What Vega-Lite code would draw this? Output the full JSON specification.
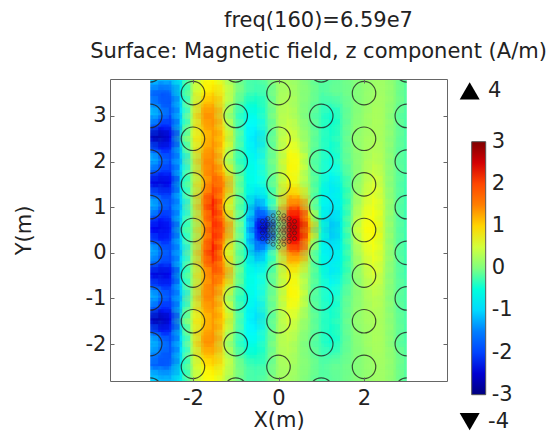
{"$schema":"https://vega.github.io/schema/vega-lite/v6.json","width":337,"height":302,"autosize":"none","padding":{"left":110,"top":79,"right":101,"bottom":52},"background":"white",
"title":{"text":["freq(160)=6.59e7","Surface: Magnetic field, z component (A/m)"],"font":"DejaVu Sans","fontSize":21,"fontWeight":"normal","color":"#222","anchor":"middle","dx":40,"lineHeight":31,"offset":17},
"config":{"view":{"stroke":null},"font":"DejaVu Sans"},
"resolve":{"axis":{"x":"independent","y":"independent"}},
"datasets":{"heat":[
{"x":-3,"y":3.75,"v":-1},{"x":-2.75,"y":3.75,"v":-1.2},{"x":-2.5,"y":3.75,"v":-1.2},{"x":-2.25,"y":3.75,"v":-0.6},{"x":-2,"y":3.75,"v":0.3},{"x":-1.75,"y":3.75,"v":0.7},{"x":-1.5,"y":3.75,"v":0.75},{"x":-1.25,"y":3.75,"v":0.4},{"x":-1,"y":3.75,"v":0.05},{"x":-0.75,"y":3.75,"v":-0.2},{"x":-0.5,"y":3.75,"v":-0.25},{"x":-0.25,"y":3.75,"v":-0.1},{"x":0,"y":3.75,"v":0.2},{"x":0.25,"y":3.75,"v":0.25},{"x":0.5,"y":3.75,"v":0.1},{"x":0.75,"y":3.75,"v":-0.05},{"x":1,"y":3.75,"v":-0.2},{"x":1.25,"y":3.75,"v":-0.15},{"x":1.5,"y":3.75,"v":-0.1},{"x":1.75,"y":3.75,"v":0},{"x":2,"y":3.75,"v":0.1},{"x":2.25,"y":3.75,"v":0.2},{"x":2.5,"y":3.75,"v":0.2},{"x":2.75,"y":3.75,"v":0},{"x":3,"y":3.75,"v":-0.2},
{"x":-3,"y":3.5,"v":-1.7},{"x":-2.75,"y":3.5,"v":-1.9},{"x":-2.5,"y":3.5,"v":-1.7},{"x":-2.25,"y":3.5,"v":-0.5},{"x":-2,"y":3.5,"v":0.35},{"x":-1.75,"y":3.5,"v":0.8},{"x":-1.5,"y":3.5,"v":1},{"x":-1.25,"y":3.5,"v":0.6},{"x":-1,"y":3.5,"v":0.1},{"x":-0.75,"y":3.5,"v":-0.2},{"x":-0.5,"y":3.5,"v":-0.3},{"x":-0.25,"y":3.5,"v":-0.2},{"x":0,"y":3.5,"v":0.2},{"x":0.25,"y":3.5,"v":0.3},{"x":0.5,"y":3.5,"v":0.1},{"x":0.75,"y":3.5,"v":0},{"x":1,"y":3.5,"v":-0.2},{"x":1.25,"y":3.5,"v":-0.1},{"x":1.5,"y":3.5,"v":-0.1},{"x":1.75,"y":3.5,"v":0},{"x":2,"y":3.5,"v":0.1},{"x":2.25,"y":3.5,"v":0.2},{"x":2.5,"y":3.5,"v":0.2},{"x":2.75,"y":3.5,"v":0},{"x":3,"y":3.5,"v":-0.2},
{"x":-3,"y":3.25,"v":-1.4},{"x":-2.75,"y":3.25,"v":-1.8},{"x":-2.5,"y":3.25,"v":-1.9},{"x":-2.25,"y":3.25,"v":-0.7},{"x":-2,"y":3.25,"v":0.4},{"x":-1.75,"y":3.25,"v":1.1},{"x":-1.5,"y":3.25,"v":1.2},{"x":-1.25,"y":3.25,"v":0.5},{"x":-1,"y":3.25,"v":-0.05},{"x":-0.75,"y":3.25,"v":-0.4},{"x":-0.5,"y":3.25,"v":-0.45},{"x":-0.25,"y":3.25,"v":-0.2},{"x":0,"y":3.25,"v":0.25},{"x":0.25,"y":3.25,"v":0.35},{"x":0.5,"y":3.25,"v":0.1},{"x":0.75,"y":3.25,"v":-0.05},{"x":1,"y":3.25,"v":-0.25},{"x":1.25,"y":3.25,"v":-0.3},{"x":1.5,"y":3.25,"v":-0.15},{"x":1.75,"y":3.25,"v":0},{"x":2,"y":3.25,"v":0.1},{"x":2.25,"y":3.25,"v":0.25},{"x":2.5,"y":3.25,"v":0.2},{"x":2.75,"y":3.25,"v":0},{"x":3,"y":3.25,"v":-0.2},
{"x":-3,"y":3,"v":-1},{"x":-2.75,"y":3,"v":-1.4},{"x":-2.5,"y":3,"v":-1.9},{"x":-2.25,"y":3,"v":-0.8},{"x":-2,"y":3,"v":0.5},{"x":-1.75,"y":3,"v":1.4},{"x":-1.5,"y":3,"v":1.4},{"x":-1.25,"y":3,"v":0.4},{"x":-1,"y":3,"v":-0.2},{"x":-0.75,"y":3,"v":-0.6},{"x":-0.5,"y":3,"v":-0.6},{"x":-0.25,"y":3,"v":-0.2},{"x":0,"y":3,"v":0.3},{"x":0.25,"y":3,"v":0.4},{"x":0.5,"y":3,"v":0.1},{"x":0.75,"y":3,"v":-0.1},{"x":1,"y":3,"v":-0.3},{"x":1.25,"y":3,"v":-0.5},{"x":1.5,"y":3,"v":-0.2},{"x":1.75,"y":3,"v":0},{"x":2,"y":3,"v":0.15},{"x":2.25,"y":3,"v":0.3},{"x":2.5,"y":3,"v":0.2},{"x":2.75,"y":3,"v":-0.1},{"x":3,"y":3,"v":-0.25},
{"x":-3,"y":2.75,"v":-1.7},{"x":-2.75,"y":2.75,"v":-2.2},{"x":-2.5,"y":2.75,"v":-2.1},{"x":-2.25,"y":2.75,"v":-0.6},{"x":-2,"y":2.75,"v":0.5},{"x":-1.75,"y":2.75,"v":1.2},{"x":-1.5,"y":2.75,"v":1.4},{"x":-1.25,"y":2.75,"v":0.6},{"x":-1,"y":2.75,"v":-0.1},{"x":-0.75,"y":2.75,"v":-0.7},{"x":-0.5,"y":2.75,"v":-0.8},{"x":-0.25,"y":2.75,"v":-0.25},{"x":0,"y":2.75,"v":0.25},{"x":0.25,"y":2.75,"v":0.5},{"x":0.5,"y":2.75,"v":0.2},{"x":0.75,"y":2.75,"v":-0.05},{"x":1,"y":2.75,"v":-0.3},{"x":1.25,"y":2.75,"v":-0.45},{"x":1.5,"y":2.75,"v":-0.2},{"x":1.75,"y":2.75,"v":0.05},{"x":2,"y":2.75,"v":0.15},{"x":2.25,"y":2.75,"v":0.3},{"x":2.5,"y":2.75,"v":0.2},{"x":2.75,"y":2.75,"v":-0.05},{"x":3,"y":2.75,"v":-0.25},
{"x":-3,"y":2.5,"v":-2.6},{"x":-2.75,"y":2.5,"v":-2.8},{"x":-2.5,"y":2.5,"v":-2.3},{"x":-2.25,"y":2.5,"v":-0.3},{"x":-2,"y":2.5,"v":0.6},{"x":-1.75,"y":2.5,"v":1},{"x":-1.5,"y":2.5,"v":1.4},{"x":-1.25,"y":2.5,"v":0.9},{"x":-1,"y":2.5,"v":0},{"x":-0.75,"y":2.5,"v":-0.7},{"x":-0.5,"y":2.5,"v":-1},{"x":-0.25,"y":2.5,"v":-0.3},{"x":0,"y":2.5,"v":0.2},{"x":0.25,"y":2.5,"v":0.6},{"x":0.5,"y":2.5,"v":0.3},{"x":0.75,"y":2.5,"v":0},{"x":1,"y":2.5,"v":-0.3},{"x":1.25,"y":2.5,"v":-0.4},{"x":1.5,"y":2.5,"v":-0.2},{"x":1.75,"y":2.5,"v":0.1},{"x":2,"y":2.5,"v":0.2},{"x":2.25,"y":2.5,"v":0.3},{"x":2.5,"y":2.5,"v":0.2},{"x":2.75,"y":2.5,"v":-0.05},{"x":3,"y":2.5,"v":-0.25},
{"x":-3,"y":2.25,"v":-1.7},{"x":-2.75,"y":2.25,"v":-2.2},{"x":-2.5,"y":2.25,"v":-2.1},{"x":-2.25,"y":2.25,"v":-0.6},{"x":-2,"y":2.25,"v":0.45},{"x":-1.75,"y":2.25,"v":1.2},{"x":-1.5,"y":2.25,"v":1.45},{"x":-1.25,"y":2.25,"v":0.7},{"x":-1,"y":2.25,"v":-0.1},{"x":-0.75,"y":2.25,"v":-0.6},{"x":-0.5,"y":2.25,"v":-0.9},{"x":-0.25,"y":2.25,"v":-0.25},{"x":0,"y":2.25,"v":0.2},{"x":0.25,"y":2.25,"v":0.7},{"x":0.5,"y":2.25,"v":0.5},{"x":0.75,"y":2.25,"v":-0.05},{"x":1,"y":2.25,"v":-0.3},{"x":1.25,"y":2.25,"v":-0.5},{"x":1.5,"y":2.25,"v":-0.2},{"x":1.75,"y":2.25,"v":0.05},{"x":2,"y":2.25,"v":0.2},{"x":2.25,"y":2.25,"v":0.35},{"x":2.5,"y":2.25,"v":0.2},{"x":2.75,"y":2.25,"v":-0.1},{"x":3,"y":2.25,"v":-0.25},
{"x":-3,"y":2,"v":-1},{"x":-2.75,"y":2,"v":-1.5},{"x":-2.5,"y":2,"v":-1.9},{"x":-2.25,"y":2,"v":-1},{"x":-2,"y":2,"v":0.3},{"x":-1.75,"y":2,"v":1.4},{"x":-1.5,"y":2,"v":1.5},{"x":-1.25,"y":2,"v":0.5},{"x":-1,"y":2,"v":-0.2},{"x":-0.75,"y":2,"v":-0.5},{"x":-0.5,"y":2,"v":-0.8},{"x":-0.25,"y":2,"v":-0.2},{"x":0,"y":2,"v":0.2},{"x":0.25,"y":2,"v":0.8},{"x":0.5,"y":2,"v":0.7},{"x":0.75,"y":2,"v":-0.1},{"x":1,"y":2,"v":-0.3},{"x":1.25,"y":2,"v":-0.6},{"x":1.5,"y":2,"v":-0.2},{"x":1.75,"y":2,"v":0},{"x":2,"y":2,"v":0.2},{"x":2.25,"y":2,"v":0.4},{"x":2.5,"y":2,"v":0.2},{"x":2.75,"y":2,"v":-0.1},{"x":3,"y":2,"v":-0.25},
{"x":-3,"y":1.75,"v":-1.8},{"x":-2.75,"y":1.75,"v":-2.1},{"x":-2.5,"y":1.75,"v":-2.1},{"x":-2.25,"y":1.75,"v":-0.7},{"x":-2,"y":1.75,"v":0.3},{"x":-1.75,"y":1.75,"v":1.3},{"x":-1.5,"y":1.75,"v":1.7},{"x":-1.25,"y":1.75,"v":0.9},{"x":-1,"y":1.75,"v":0.05},{"x":-0.75,"y":1.75,"v":-0.5},{"x":-0.5,"y":1.75,"v":-0.7},{"x":-0.25,"y":1.75,"v":-0.25},{"x":0,"y":1.75,"v":0.2},{"x":0.25,"y":1.75,"v":0.8},{"x":0.5,"y":1.75,"v":0.6},{"x":0.75,"y":1.75,"v":-0.05},{"x":1,"y":1.75,"v":-0.35},{"x":1.25,"y":1.75,"v":-0.7},{"x":1.5,"y":1.75,"v":-0.3},{"x":1.75,"y":1.75,"v":0},{"x":2,"y":1.75,"v":0.25},{"x":2.25,"y":1.75,"v":0.5},{"x":2.5,"y":1.75,"v":0.2},{"x":2.75,"y":1.75,"v":-0.1},{"x":3,"y":1.75,"v":-0.25},
{"x":-3,"y":1.5,"v":-2.4},{"x":-2.75,"y":1.5,"v":-2.5},{"x":-2.5,"y":1.5,"v":-2.3},{"x":-2.25,"y":1.5,"v":-0.5},{"x":-2,"y":1.5,"v":0.3},{"x":-1.75,"y":1.5,"v":1.1},{"x":-1.5,"y":1.5,"v":1.9},{"x":-1.25,"y":1.5,"v":1.4},{"x":-1,"y":1.5,"v":0.2},{"x":-0.75,"y":1.5,"v":-0.5},{"x":-0.5,"y":1.5,"v":-0.7},{"x":-0.25,"y":1.5,"v":-0.3},{"x":0,"y":1.5,"v":0.2},{"x":0.25,"y":1.5,"v":0.8},{"x":0.5,"y":1.5,"v":0.5},{"x":0.75,"y":1.5,"v":0},{"x":1,"y":1.5,"v":-0.4},{"x":1.25,"y":1.5,"v":-0.9},{"x":1.5,"y":1.5,"v":-0.4},{"x":1.75,"y":1.5,"v":0},{"x":2,"y":1.5,"v":0.3},{"x":2.25,"y":1.5,"v":0.6},{"x":2.5,"y":1.5,"v":0.2},{"x":2.75,"y":1.5,"v":-0.1},{"x":3,"y":1.5,"v":-0.3},
{"x":-3,"y":1.25,"v":-1.6},{"x":-2.75,"y":1.25,"v":-2},{"x":-2.5,"y":1.25,"v":-2},{"x":-2.25,"y":1.25,"v":-0.7},{"x":-2,"y":1.25,"v":0.3},{"x":-1.75,"y":1.25,"v":1.4},{"x":-1.5,"y":1.25,"v":2.1},{"x":-1.25,"y":1.25,"v":1.1},{"x":-1,"y":1.25,"v":0.15},{"x":-0.75,"y":1.25,"v":-0.5},{"x":-0.5,"y":1.25,"v":-1},{"x":-0.25,"y":1.25,"v":-0.5},{"x":0,"y":1.25,"v":0.25},{"x":0.25,"y":1.25,"v":1.1},{"x":0.5,"y":1.25,"v":1},{"x":0.75,"y":1.25,"v":0.05},{"x":1,"y":1.25,"v":-0.5},{"x":1.25,"y":1.25,"v":-0.9},{"x":1.5,"y":1.25,"v":-0.45},{"x":1.75,"y":1.25,"v":0.05},{"x":2,"y":1.25,"v":0.4},{"x":2.25,"y":1.25,"v":0.65},{"x":2.5,"y":1.25,"v":0.25},{"x":2.75,"y":1.25,"v":-0.1},{"x":3,"y":1.25,"v":-0.3},
{"x":-3,"y":1,"v":-1},{"x":-2.75,"y":1,"v":-1.6},{"x":-2.5,"y":1,"v":-1.9},{"x":-2.25,"y":1,"v":-1},{"x":-2,"y":1,"v":0.25},{"x":-1.75,"y":1,"v":1.5},{"x":-1.5,"y":1,"v":2.3},{"x":-1.25,"y":1,"v":0.8},{"x":-1,"y":1,"v":0.1},{"x":-0.75,"y":1,"v":-0.5},{"x":-0.5,"y":1,"v":-1.5},{"x":-0.25,"y":1,"v":-0.8},{"x":0,"y":1,"v":0.3},{"x":0.25,"y":1,"v":1.6},{"x":0.5,"y":1,"v":1.8},{"x":0.75,"y":1,"v":0.2},{"x":1,"y":1,"v":-0.6},{"x":1.25,"y":1,"v":-0.9},{"x":1.5,"y":1,"v":-0.5},{"x":1.75,"y":1,"v":0.1},{"x":2,"y":1,"v":0.5},{"x":2.25,"y":1,"v":0.7},{"x":2.5,"y":1,"v":0.3},{"x":2.75,"y":1,"v":-0.1},{"x":3,"y":1,"v":-0.3},
{"x":-3,"y":0.75,"v":-1.8},{"x":-2.75,"y":0.75,"v":-2.2},{"x":-2.5,"y":0.75,"v":-2},{"x":-2.25,"y":0.75,"v":-0.7},{"x":-2,"y":0.75,"v":0.15},{"x":-1.75,"y":0.75,"v":1.3},{"x":-1.5,"y":0.75,"v":2.2},{"x":-1.25,"y":0.75,"v":1.2},{"x":-1,"y":0.75,"v":0.2},{"x":-0.75,"y":0.75,"v":-0.7},{"x":-0.5,"y":0.75,"v":-2},{"x":-0.25,"y":0.75,"v":-2},{"x":0,"y":0.75,"v":0},{"x":0.25,"y":0.75,"v":2.3},{"x":0.5,"y":0.75,"v":2.3},{"x":0.75,"y":0.75,"v":0.8},{"x":1,"y":0.75,"v":-0.5},{"x":1.25,"y":0.75,"v":-1.1},{"x":1.5,"y":0.75,"v":-0.5},{"x":1.75,"y":0.75,"v":0.2},{"x":2,"y":0.75,"v":0.6},{"x":2.25,"y":0.75,"v":0.75},{"x":2.5,"y":0.75,"v":0.3},{"x":2.75,"y":0.75,"v":-0.1},{"x":3,"y":0.75,"v":-0.3},
{"x":-3,"y":0.5,"v":-2.3},{"x":-2.75,"y":0.5,"v":-2.4},{"x":-2.5,"y":0.5,"v":-2.2},{"x":-2.25,"y":0.5,"v":-0.4},{"x":-2,"y":0.5,"v":0.1},{"x":-1.75,"y":0.5,"v":1.2},{"x":-1.5,"y":0.5,"v":2.2},{"x":-1.25,"y":0.5,"v":1.6},{"x":-1,"y":0.5,"v":0.3},{"x":-0.75,"y":0.5,"v":-0.8},{"x":-0.5,"y":0.5,"v":-2.3},{"x":-0.25,"y":0.5,"v":-2.8},{"x":0,"y":0.5,"v":-0.1},{"x":0.25,"y":0.5,"v":2.6},{"x":0.5,"y":0.5,"v":2.5},{"x":0.75,"y":0.5,"v":1.2},{"x":1,"y":0.5,"v":-0.4},{"x":1.25,"y":0.5,"v":-1.2},{"x":1.5,"y":0.5,"v":-0.5},{"x":1.75,"y":0.5,"v":0.3},{"x":2,"y":0.5,"v":0.7},{"x":2.25,"y":0.5,"v":0.8},{"x":2.5,"y":0.5,"v":0.3},{"x":2.75,"y":0.5,"v":-0.1},{"x":3,"y":0.5,"v":-0.3},
{"x":-3,"y":0.25,"v":-1.8},{"x":-2.75,"y":0.25,"v":-2.2},{"x":-2.5,"y":0.25,"v":-2},{"x":-2.25,"y":0.25,"v":-0.7},{"x":-2,"y":0.25,"v":0.15},{"x":-1.75,"y":0.25,"v":1.3},{"x":-1.5,"y":0.25,"v":2.2},{"x":-1.25,"y":0.25,"v":1.2},{"x":-1,"y":0.25,"v":0.2},{"x":-0.75,"y":0.25,"v":-0.7},{"x":-0.5,"y":0.25,"v":-2},{"x":-0.25,"y":0.25,"v":-2},{"x":0,"y":0.25,"v":0},{"x":0.25,"y":0.25,"v":2.3},{"x":0.5,"y":0.25,"v":2.3},{"x":0.75,"y":0.25,"v":0.8},{"x":1,"y":0.25,"v":-0.5},{"x":1.25,"y":0.25,"v":-1.1},{"x":1.5,"y":0.25,"v":-0.5},{"x":1.75,"y":0.25,"v":0.2},{"x":2,"y":0.25,"v":0.6},{"x":2.25,"y":0.25,"v":0.75},{"x":2.5,"y":0.25,"v":0.3},{"x":2.75,"y":0.25,"v":-0.1},{"x":3,"y":0.25,"v":-0.3},
{"x":-3,"y":0,"v":-1},{"x":-2.75,"y":0,"v":-1.6},{"x":-2.5,"y":0,"v":-1.9},{"x":-2.25,"y":0,"v":-1},{"x":-2,"y":0,"v":0.25},{"x":-1.75,"y":0,"v":1.5},{"x":-1.5,"y":0,"v":2.3},{"x":-1.25,"y":0,"v":0.8},{"x":-1,"y":0,"v":0.1},{"x":-0.75,"y":0,"v":-0.5},{"x":-0.5,"y":0,"v":-1.5},{"x":-0.25,"y":0,"v":-0.8},{"x":0,"y":0,"v":0.3},{"x":0.25,"y":0,"v":1.6},{"x":0.5,"y":0,"v":1.8},{"x":0.75,"y":0,"v":0.2},{"x":1,"y":0,"v":-0.6},{"x":1.25,"y":0,"v":-0.9},{"x":1.5,"y":0,"v":-0.5},{"x":1.75,"y":0,"v":0.1},{"x":2,"y":0,"v":0.5},{"x":2.25,"y":0,"v":0.7},{"x":2.5,"y":0,"v":0.3},{"x":2.75,"y":0,"v":-0.1},{"x":3,"y":0,"v":-0.3},
{"x":-3,"y":-0.25,"v":-1.6},{"x":-2.75,"y":-0.25,"v":-2},{"x":-2.5,"y":-0.25,"v":-2},{"x":-2.25,"y":-0.25,"v":-0.7},{"x":-2,"y":-0.25,"v":0.3},{"x":-1.75,"y":-0.25,"v":1.4},{"x":-1.5,"y":-0.25,"v":2.1},{"x":-1.25,"y":-0.25,"v":1.1},{"x":-1,"y":-0.25,"v":0.15},{"x":-0.75,"y":-0.25,"v":-0.5},{"x":-0.5,"y":-0.25,"v":-1},{"x":-0.25,"y":-0.25,"v":-0.5},{"x":0,"y":-0.25,"v":0.25},{"x":0.25,"y":-0.25,"v":1.1},{"x":0.5,"y":-0.25,"v":1},{"x":0.75,"y":-0.25,"v":0.05},{"x":1,"y":-0.25,"v":-0.5},{"x":1.25,"y":-0.25,"v":-0.9},{"x":1.5,"y":-0.25,"v":-0.45},{"x":1.75,"y":-0.25,"v":0.05},{"x":2,"y":-0.25,"v":0.4},{"x":2.25,"y":-0.25,"v":0.65},{"x":2.5,"y":-0.25,"v":0.25},{"x":2.75,"y":-0.25,"v":-0.1},{"x":3,"y":-0.25,"v":-0.3},
{"x":-3,"y":-0.5,"v":-2.4},{"x":-2.75,"y":-0.5,"v":-2.5},{"x":-2.5,"y":-0.5,"v":-2.3},{"x":-2.25,"y":-0.5,"v":-0.5},{"x":-2,"y":-0.5,"v":0.3},{"x":-1.75,"y":-0.5,"v":1.1},{"x":-1.5,"y":-0.5,"v":1.9},{"x":-1.25,"y":-0.5,"v":1.4},{"x":-1,"y":-0.5,"v":0.2},{"x":-0.75,"y":-0.5,"v":-0.5},{"x":-0.5,"y":-0.5,"v":-0.7},{"x":-0.25,"y":-0.5,"v":-0.3},{"x":0,"y":-0.5,"v":0.2},{"x":0.25,"y":-0.5,"v":0.8},{"x":0.5,"y":-0.5,"v":0.5},{"x":0.75,"y":-0.5,"v":0},{"x":1,"y":-0.5,"v":-0.4},{"x":1.25,"y":-0.5,"v":-0.9},{"x":1.5,"y":-0.5,"v":-0.4},{"x":1.75,"y":-0.5,"v":0},{"x":2,"y":-0.5,"v":0.3},{"x":2.25,"y":-0.5,"v":0.6},{"x":2.5,"y":-0.5,"v":0.2},{"x":2.75,"y":-0.5,"v":-0.1},{"x":3,"y":-0.5,"v":-0.3},
{"x":-3,"y":-0.75,"v":-1.8},{"x":-2.75,"y":-0.75,"v":-2.1},{"x":-2.5,"y":-0.75,"v":-2.1},{"x":-2.25,"y":-0.75,"v":-0.7},{"x":-2,"y":-0.75,"v":0.3},{"x":-1.75,"y":-0.75,"v":1.3},{"x":-1.5,"y":-0.75,"v":1.7},{"x":-1.25,"y":-0.75,"v":0.9},{"x":-1,"y":-0.75,"v":0.05},{"x":-0.75,"y":-0.75,"v":-0.5},{"x":-0.5,"y":-0.75,"v":-0.7},{"x":-0.25,"y":-0.75,"v":-0.25},{"x":0,"y":-0.75,"v":0.2},{"x":0.25,"y":-0.75,"v":0.8},{"x":0.5,"y":-0.75,"v":0.6},{"x":0.75,"y":-0.75,"v":-0.05},{"x":1,"y":-0.75,"v":-0.35},{"x":1.25,"y":-0.75,"v":-0.7},{"x":1.5,"y":-0.75,"v":-0.3},{"x":1.75,"y":-0.75,"v":0},{"x":2,"y":-0.75,"v":0.25},{"x":2.25,"y":-0.75,"v":0.5},{"x":2.5,"y":-0.75,"v":0.2},{"x":2.75,"y":-0.75,"v":-0.1},{"x":3,"y":-0.75,"v":-0.25},
{"x":-3,"y":-1,"v":-1},{"x":-2.75,"y":-1,"v":-1.5},{"x":-2.5,"y":-1,"v":-1.9},{"x":-2.25,"y":-1,"v":-1},{"x":-2,"y":-1,"v":0.3},{"x":-1.75,"y":-1,"v":1.4},{"x":-1.5,"y":-1,"v":1.5},{"x":-1.25,"y":-1,"v":0.5},{"x":-1,"y":-1,"v":-0.2},{"x":-0.75,"y":-1,"v":-0.5},{"x":-0.5,"y":-1,"v":-0.8},{"x":-0.25,"y":-1,"v":-0.2},{"x":0,"y":-1,"v":0.2},{"x":0.25,"y":-1,"v":0.8},{"x":0.5,"y":-1,"v":0.7},{"x":0.75,"y":-1,"v":-0.1},{"x":1,"y":-1,"v":-0.3},{"x":1.25,"y":-1,"v":-0.6},{"x":1.5,"y":-1,"v":-0.2},{"x":1.75,"y":-1,"v":0},{"x":2,"y":-1,"v":0.2},{"x":2.25,"y":-1,"v":0.4},{"x":2.5,"y":-1,"v":0.2},{"x":2.75,"y":-1,"v":-0.1},{"x":3,"y":-1,"v":-0.25},
{"x":-3,"y":-1.25,"v":-1.7},{"x":-2.75,"y":-1.25,"v":-2.2},{"x":-2.5,"y":-1.25,"v":-2.1},{"x":-2.25,"y":-1.25,"v":-0.6},{"x":-2,"y":-1.25,"v":0.45},{"x":-1.75,"y":-1.25,"v":1.2},{"x":-1.5,"y":-1.25,"v":1.45},{"x":-1.25,"y":-1.25,"v":0.7},{"x":-1,"y":-1.25,"v":-0.1},{"x":-0.75,"y":-1.25,"v":-0.6},{"x":-0.5,"y":-1.25,"v":-0.9},{"x":-0.25,"y":-1.25,"v":-0.25},{"x":0,"y":-1.25,"v":0.2},{"x":0.25,"y":-1.25,"v":0.7},{"x":0.5,"y":-1.25,"v":0.5},{"x":0.75,"y":-1.25,"v":-0.05},{"x":1,"y":-1.25,"v":-0.3},{"x":1.25,"y":-1.25,"v":-0.5},{"x":1.5,"y":-1.25,"v":-0.2},{"x":1.75,"y":-1.25,"v":0.05},{"x":2,"y":-1.25,"v":0.2},{"x":2.25,"y":-1.25,"v":0.35},{"x":2.5,"y":-1.25,"v":0.2},{"x":2.75,"y":-1.25,"v":-0.1},{"x":3,"y":-1.25,"v":-0.25},
{"x":-3,"y":-1.5,"v":-2.6},{"x":-2.75,"y":-1.5,"v":-2.8},{"x":-2.5,"y":-1.5,"v":-2.3},{"x":-2.25,"y":-1.5,"v":-0.3},{"x":-2,"y":-1.5,"v":0.6},{"x":-1.75,"y":-1.5,"v":1},{"x":-1.5,"y":-1.5,"v":1.4},{"x":-1.25,"y":-1.5,"v":0.9},{"x":-1,"y":-1.5,"v":0},{"x":-0.75,"y":-1.5,"v":-0.7},{"x":-0.5,"y":-1.5,"v":-1},{"x":-0.25,"y":-1.5,"v":-0.3},{"x":0,"y":-1.5,"v":0.2},{"x":0.25,"y":-1.5,"v":0.6},{"x":0.5,"y":-1.5,"v":0.3},{"x":0.75,"y":-1.5,"v":0},{"x":1,"y":-1.5,"v":-0.3},{"x":1.25,"y":-1.5,"v":-0.4},{"x":1.5,"y":-1.5,"v":-0.2},{"x":1.75,"y":-1.5,"v":0.1},{"x":2,"y":-1.5,"v":0.2},{"x":2.25,"y":-1.5,"v":0.3},{"x":2.5,"y":-1.5,"v":0.2},{"x":2.75,"y":-1.5,"v":-0.05},{"x":3,"y":-1.5,"v":-0.25},
{"x":-3,"y":-1.75,"v":-1.7},{"x":-2.75,"y":-1.75,"v":-2.2},{"x":-2.5,"y":-1.75,"v":-2.1},{"x":-2.25,"y":-1.75,"v":-0.6},{"x":-2,"y":-1.75,"v":0.5},{"x":-1.75,"y":-1.75,"v":1.2},{"x":-1.5,"y":-1.75,"v":1.4},{"x":-1.25,"y":-1.75,"v":0.6},{"x":-1,"y":-1.75,"v":-0.1},{"x":-0.75,"y":-1.75,"v":-0.7},{"x":-0.5,"y":-1.75,"v":-0.8},{"x":-0.25,"y":-1.75,"v":-0.25},{"x":0,"y":-1.75,"v":0.25},{"x":0.25,"y":-1.75,"v":0.5},{"x":0.5,"y":-1.75,"v":0.2},{"x":0.75,"y":-1.75,"v":-0.05},{"x":1,"y":-1.75,"v":-0.3},{"x":1.25,"y":-1.75,"v":-0.45},{"x":1.5,"y":-1.75,"v":-0.2},{"x":1.75,"y":-1.75,"v":0.05},{"x":2,"y":-1.75,"v":0.15},{"x":2.25,"y":-1.75,"v":0.3},{"x":2.5,"y":-1.75,"v":0.2},{"x":2.75,"y":-1.75,"v":-0.05},{"x":3,"y":-1.75,"v":-0.25},
{"x":-3,"y":-2,"v":-1},{"x":-2.75,"y":-2,"v":-1.4},{"x":-2.5,"y":-2,"v":-1.9},{"x":-2.25,"y":-2,"v":-0.8},{"x":-2,"y":-2,"v":0.5},{"x":-1.75,"y":-2,"v":1.4},{"x":-1.5,"y":-2,"v":1.4},{"x":-1.25,"y":-2,"v":0.4},{"x":-1,"y":-2,"v":-0.2},{"x":-0.75,"y":-2,"v":-0.6},{"x":-0.5,"y":-2,"v":-0.6},{"x":-0.25,"y":-2,"v":-0.2},{"x":0,"y":-2,"v":0.3},{"x":0.25,"y":-2,"v":0.4},{"x":0.5,"y":-2,"v":0.1},{"x":0.75,"y":-2,"v":-0.1},{"x":1,"y":-2,"v":-0.3},{"x":1.25,"y":-2,"v":-0.5},{"x":1.5,"y":-2,"v":-0.2},{"x":1.75,"y":-2,"v":0},{"x":2,"y":-2,"v":0.15},{"x":2.25,"y":-2,"v":0.3},{"x":2.5,"y":-2,"v":0.2},{"x":2.75,"y":-2,"v":-0.1},{"x":3,"y":-2,"v":-0.25},
{"x":-3,"y":-2.25,"v":-1.4},{"x":-2.75,"y":-2.25,"v":-1.8},{"x":-2.5,"y":-2.25,"v":-1.9},{"x":-2.25,"y":-2.25,"v":-0.7},{"x":-2,"y":-2.25,"v":0.4},{"x":-1.75,"y":-2.25,"v":1.1},{"x":-1.5,"y":-2.25,"v":1.2},{"x":-1.25,"y":-2.25,"v":0.5},{"x":-1,"y":-2.25,"v":-0.05},{"x":-0.75,"y":-2.25,"v":-0.4},{"x":-0.5,"y":-2.25,"v":-0.45},{"x":-0.25,"y":-2.25,"v":-0.2},{"x":0,"y":-2.25,"v":0.25},{"x":0.25,"y":-2.25,"v":0.35},{"x":0.5,"y":-2.25,"v":0.1},{"x":0.75,"y":-2.25,"v":-0.05},{"x":1,"y":-2.25,"v":-0.25},{"x":1.25,"y":-2.25,"v":-0.3},{"x":1.5,"y":-2.25,"v":-0.15},{"x":1.75,"y":-2.25,"v":0},{"x":2,"y":-2.25,"v":0.1},{"x":2.25,"y":-2.25,"v":0.25},{"x":2.5,"y":-2.25,"v":0.2},{"x":2.75,"y":-2.25,"v":0},{"x":3,"y":-2.25,"v":-0.2},
{"x":-3,"y":-2.5,"v":-1.7},{"x":-2.75,"y":-2.5,"v":-1.9},{"x":-2.5,"y":-2.5,"v":-1.7},{"x":-2.25,"y":-2.5,"v":-0.5},{"x":-2,"y":-2.5,"v":0.35},{"x":-1.75,"y":-2.5,"v":0.8},{"x":-1.5,"y":-2.5,"v":1},{"x":-1.25,"y":-2.5,"v":0.6},{"x":-1,"y":-2.5,"v":0.1},{"x":-0.75,"y":-2.5,"v":-0.2},{"x":-0.5,"y":-2.5,"v":-0.3},{"x":-0.25,"y":-2.5,"v":-0.2},{"x":0,"y":-2.5,"v":0.2},{"x":0.25,"y":-2.5,"v":0.3},{"x":0.5,"y":-2.5,"v":0.1},{"x":0.75,"y":-2.5,"v":0},{"x":1,"y":-2.5,"v":-0.2},{"x":1.25,"y":-2.5,"v":-0.1},{"x":1.5,"y":-2.5,"v":-0.1},{"x":1.75,"y":-2.5,"v":0},{"x":2,"y":-2.5,"v":0.1},{"x":2.25,"y":-2.5,"v":0.2},{"x":2.5,"y":-2.5,"v":0.2},{"x":2.75,"y":-2.5,"v":0},{"x":3,"y":-2.5,"v":-0.2},
{"x":-3,"y":-2.75,"v":-1},{"x":-2.75,"y":-2.75,"v":-1.2},{"x":-2.5,"y":-2.75,"v":-1.2},{"x":-2.25,"y":-2.75,"v":-0.6},{"x":-2,"y":-2.75,"v":0.3},{"x":-1.75,"y":-2.75,"v":0.7},{"x":-1.5,"y":-2.75,"v":0.75},{"x":-1.25,"y":-2.75,"v":0.4},{"x":-1,"y":-2.75,"v":0.05},{"x":-0.75,"y":-2.75,"v":-0.2},{"x":-0.5,"y":-2.75,"v":-0.25},{"x":-0.25,"y":-2.75,"v":-0.1},{"x":0,"y":-2.75,"v":0.2},{"x":0.25,"y":-2.75,"v":0.25},{"x":0.5,"y":-2.75,"v":0.1},{"x":0.75,"y":-2.75,"v":-0.05},{"x":1,"y":-2.75,"v":-0.2},{"x":1.25,"y":-2.75,"v":-0.15},{"x":1.5,"y":-2.75,"v":-0.1},{"x":1.75,"y":-2.75,"v":0},{"x":2,"y":-2.75,"v":0.1},{"x":2.25,"y":-2.75,"v":0.2},{"x":2.5,"y":-2.75,"v":0.2},{"x":2.75,"y":-2.75,"v":0},{"x":3,"y":-2.75,"v":-0.2}
]},
"layer":[
{"data":{"name":"heat"},"mark":{"type":"rect","width":11,"height":12,"clip":true},
"encoding":{"x":{"field":"x","type":"quantitative","scale":{"domain":[-3.94,3.94],"nice":false,"zero":false},"axis":{"orient":"bottom","values":[-2,0,2],"labelExpr":"replace(datum.label,'−','-')","title":"X(m)","titleFontSize":21,"titleFontWeight":"normal","titleColor":"#222","labelFontSize":21,"labelColor":"#222","grid":false,"tickSize":-4,"tickColor":"#666","domainColor":"#666","labelPadding":10,"titlePadding":1,"zindex":1}},
"y":{"field":"y","type":"quantitative","scale":{"domain":[-2.81,3.81],"nice":false,"zero":false},"axis":{"orient":"left","values":[-2,-1,0,1,2,3],"labelExpr":"replace(datum.label,'−','-')","title":"Y(m)","titleFontSize":21,"titleFontWeight":"normal","titleColor":"#222","labelFontSize":21,"labelColor":"#222","grid":false,"tickSize":-4,"tickColor":"#666","domainColor":"#666","labelPadding":8,"titlePadding":51,"zindex":1}},
"color":{"field":"v","type":"quantitative","scale":{"domain":[-3,-2.25,-1.5,-0.75,0,0.75,1.5,2.25,3],"range":["#00007f","#0000ff","#007fff","#00ffff","#7fff7f","#ffff00","#ff7f00","#ff0000","#7f0000"]},"legend":{"orient":"none","legendX":361.7,"legendY":62.7,"title":null,"values":[-3,-2,-1,0,1,2,3],"labelExpr":"replace(datum.label,'−','-')","gradientLength":253,"gradientThickness":14,"gradientStrokeColor":"#555","gradientStrokeWidth":1,"labelFontSize":21,"labelColor":"#222","labelOffset":6,"encode":{"labels":{"update":{"baseline":{"value":"middle"}}},"gradient":{"update":{"opacity":{"value":1}}}}}}}},
{"data":{"name":"heat"},"mark":{"type":"rect","width":22,"height":24,"clip":true,"opacity":0.35},
"encoding":{"x":{"field":"x","type":"quantitative","axis":null},"y":{"field":"y","type":"quantitative","axis":null},"color":{"field":"v","type":"quantitative","legend":null}}},
{"data":{"name":"heat"},"mark":{"type":"rect","width":16,"height":17,"clip":true,"opacity":0.35},
"encoding":{"x":{"field":"x","type":"quantitative","axis":null},"y":{"field":"y","type":"quantitative","axis":null},"color":{"field":"v","type":"quantitative","legend":null},"order":{"field":"x","sort":"descending"}}},
{"data":{"values":[
{"x":-3,"y":4},{"x":-3,"y":3},{"x":-3,"y":2},{"x":-3,"y":1},{"x":-3,"y":0},{"x":-3,"y":-1},{"x":-3,"y":-2},{"x":-3,"y":-3},
{"x":-1,"y":4},{"x":-1,"y":3},{"x":-1,"y":2},{"x":-1,"y":1},{"x":-1,"y":0},{"x":-1,"y":-1},{"x":-1,"y":-2},{"x":-1,"y":-3},
{"x":1,"y":4},{"x":1,"y":3},{"x":1,"y":2},{"x":1,"y":1},{"x":1,"y":0},{"x":1,"y":-1},{"x":1,"y":-2},{"x":1,"y":-3},
{"x":3,"y":4},{"x":3,"y":3},{"x":3,"y":2},{"x":3,"y":1},{"x":3,"y":0},{"x":3,"y":-1},{"x":3,"y":-2},{"x":3,"y":-3},
{"x":-2,"y":3.5},{"x":-2,"y":2.5},{"x":-2,"y":1.5},{"x":-2,"y":0.5},{"x":-2,"y":-0.5},{"x":-2,"y":-1.5},{"x":-2,"y":-2.5},
{"x":0,"y":3.5},{"x":0,"y":2.5},{"x":0,"y":1.5},{"x":0,"y":-0.5},{"x":0,"y":-1.5},{"x":0,"y":-2.5},
{"x":2,"y":3.5},{"x":2,"y":2.5},{"x":2,"y":1.5},{"x":2,"y":0.5},{"x":2,"y":-0.5},{"x":2,"y":-1.5},{"x":2,"y":-2.5}
]},"mark":{"type":"point","shape":"circle","filled":false,"size":551,"stroke":"#222","strokeWidth":1.2,"opacity":0.8,"clip":true},
"encoding":{"x":{"field":"x","type":"quantitative","axis":{"orient":"top","values":[-2,0,2],"title":null,"labels":false,"tickSize":-4,"tickColor":"#666","domainColor":"#666","grid":false,"zindex":1}},
"y":{"field":"y","type":"quantitative","axis":{"orient":"right","values":[-2,-1,0,1,2,3],"title":null,"labels":false,"tickSize":-4,"tickColor":"#666","domainColor":"#666","grid":false,"zindex":1}}}},
{"data":{"values":[
{"x":0,"y":0.875},{"x":0,"y":0.75},{"x":0,"y":0.625},{"x":0,"y":0.5},{"x":0,"y":0.375},{"x":0,"y":0.25},{"x":0,"y":0.125},
{"x":-0.125,"y":0.8125},{"x":-0.125,"y":0.6875},{"x":-0.125,"y":0.5625},{"x":-0.125,"y":0.4375},{"x":-0.125,"y":0.3125},{"x":-0.125,"y":0.1875},
{"x":0.125,"y":0.8125},{"x":0.125,"y":0.6875},{"x":0.125,"y":0.5625},{"x":0.125,"y":0.4375},{"x":0.125,"y":0.3125},{"x":0.125,"y":0.1875},
{"x":-0.25,"y":0.75},{"x":-0.25,"y":0.625},{"x":-0.25,"y":0.5},{"x":-0.25,"y":0.375},{"x":-0.25,"y":0.25},
{"x":0.25,"y":0.75},{"x":0.25,"y":0.625},{"x":0.25,"y":0.5},{"x":0.25,"y":0.375},{"x":0.25,"y":0.25},
{"x":-0.375,"y":0.6875},{"x":-0.375,"y":0.5625},{"x":-0.375,"y":0.4375},{"x":-0.375,"y":0.3125},
{"x":0.375,"y":0.6875},{"x":0.375,"y":0.5625},{"x":0.375,"y":0.4375},{"x":0.375,"y":0.3125}
]},"mark":{"type":"point","shape":"circle","filled":false,"size":16,"stroke":"#222","strokeWidth":0.8,"opacity":0.7},
"encoding":{"x":{"field":"x","type":"quantitative","axis":null},"y":{"field":"y","type":"quantitative","axis":null}}},
{"data":{"values":[{"x":-3.94,"x2":-3,"y":-2.81,"y2":3.81},{"x":3,"x2":3.94,"y":-2.81,"y2":3.81}]},"mark":{"type":"rect","color":"white"},
"encoding":{"x":{"field":"x","type":"quantitative","axis":null},"x2":{"field":"x2"},"y":{"field":"y","type":"quantitative","axis":null},"y2":{"field":"y2"}}},
{"data":{"values":[{"x":4.47,"y":3.55,"s":"triangle-up"},{"x":4.47,"y":-3.7,"s":"triangle-down"}]},"mark":{"type":"point","filled":true,"size":400,"color":"black","opacity":1,"clip":false},
"encoding":{"x":{"field":"x","type":"quantitative","axis":null},"y":{"field":"y","type":"quantitative","axis":null},"shape":{"field":"s","type":"nominal","scale":null}}},
{"data":{"values":[{"x":4.9,"y":3.54,"t":"4"},{"x":4.9,"y":-3.7,"t":"-4"}]},"mark":{"type":"text","align":"left","baseline":"middle","fontSize":21,"color":"#222","font":"DejaVu Sans","clip":false},
"encoding":{"x":{"field":"x","type":"quantitative","axis":null},"y":{"field":"y","type":"quantitative","axis":null},"text":{"field":"t"}}}
]}
